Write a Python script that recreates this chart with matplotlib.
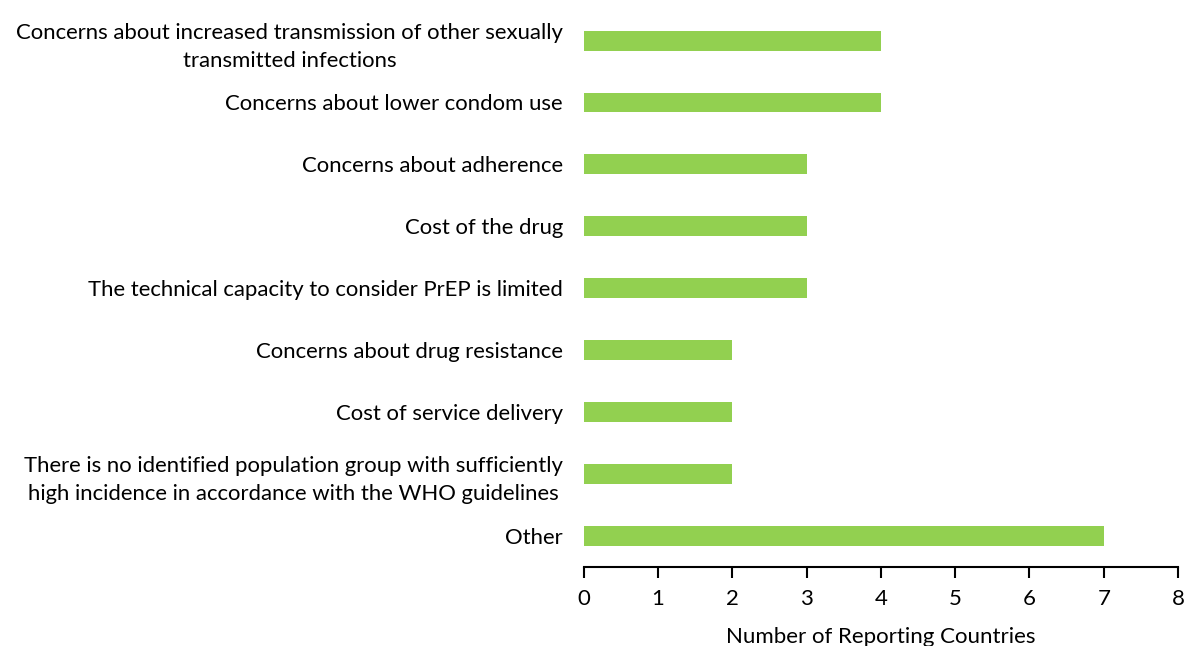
import matplotlib
matplotlib.use("Agg")
import matplotlib.pyplot as plt
import numpy as np

plt.rcParams["font.family"] = ["Lato", "DejaVu Sans"]

categories = [
    "Concerns about increased transmission of other sexually\ntransmitted infections",
    "Concerns about lower condom use",
    "Concerns about adherence",
    "Cost of the drug",
    "The technical capacity to consider PrEP is limited",
    "Concerns about drug resistance",
    "Cost of service delivery",
    "There is no identified population group with sufficiently\nhigh incidence in accordance with the WHO guidelines",
    "Other",
]
countries = [4, 4, 3, 3, 3, 2, 2, 2, 7]
x_ticks = [0, 1, 2, 3, 4, 5, 6, 7, 8]

BAR_COLOR = "#92D050"


def main():
    fig = plt.figure(figsize=(11.84, 6.46), dpi=100)
    ax = fig.add_axes([0.493, 0.123, 0.502, 0.862])

    y = np.arange(len(categories))
    ax.barh(y, countries, height=0.32, color=BAR_COLOR)

    ax.set_ylim(len(categories) - 0.5, -0.5)
    ax.set_xlim(0, 8)
    ax.set_xticks(x_ticks)
    ax.set_yticks(y)
    ax.set_yticklabels(categories, multialignment="center", linespacing=1.5)

    for side in ("top", "right", "left"):
        ax.spines[side].set_visible(False)
    ax.spines["bottom"].set_linewidth(1.5)
    ax.tick_params(axis="y", length=0, pad=15, labelsize=15.9)
    ax.tick_params(axis="x", length=8, width=1.5, direction="out", pad=8, labelsize=16)
    ax.set_xlabel("Number of Reporting Countries", fontsize=16, labelpad=13)

    fig.savefig("out.png", dpi=100)


if __name__ == "__main__":
    main()
